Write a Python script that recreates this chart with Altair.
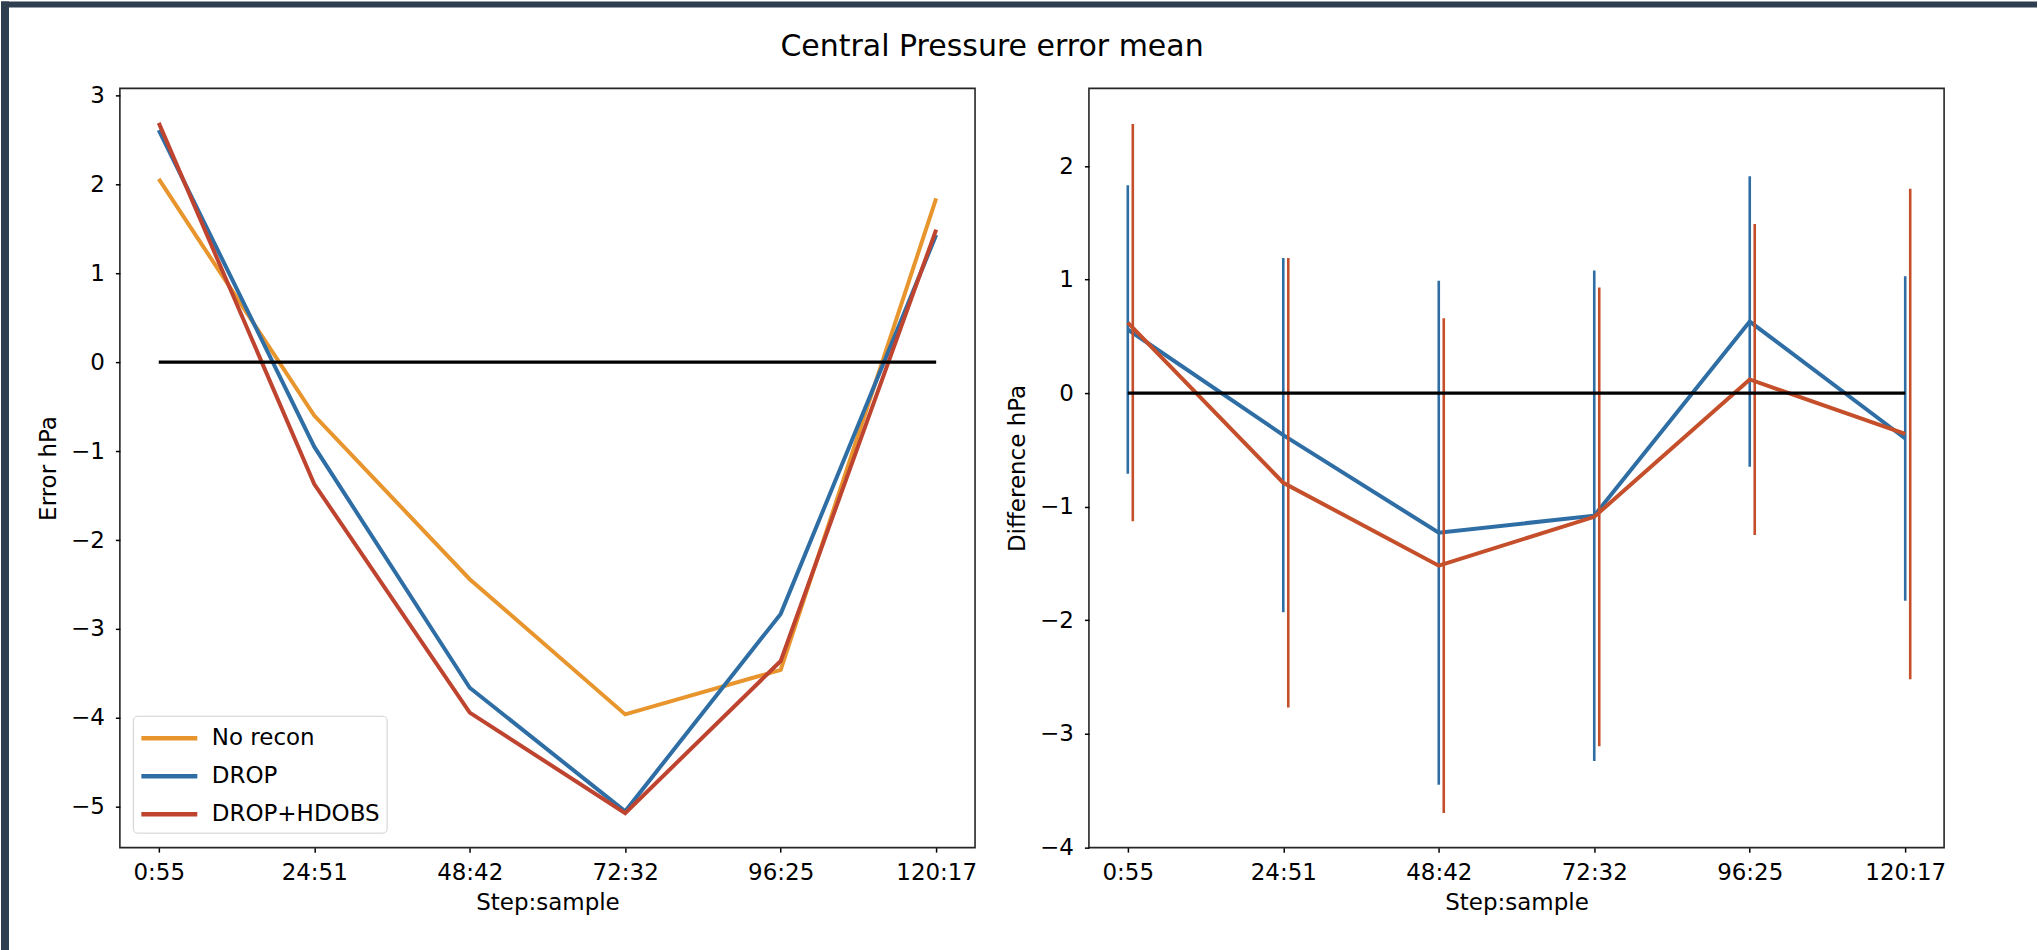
import altair as alt
import pandas as pd

# ---------------------------------------------------------------------------
# Data
# ---------------------------------------------------------------------------
steps = ["0:55", "24:51", "48:42", "72:32", "96:25", "120:17"]

series_names = ["No recon", "DROP", "DROP+HDOBS"]
series_colors = ["#E8952E", "#2F6EA5", "#BE4430"]

# Mean central-pressure error (hPa) at each step
err_no_recon = [2.06, -0.60, -2.44, -3.96, -3.46, 1.84]
err_drop = [2.61, -0.95, -3.66, -5.05, -2.83, 1.43]
err_drop_hdobs = [2.69, -1.37, -3.94, -5.07, -3.36, 1.49]

# Difference from "No recon" (hPa): mean and spread of each experiment
diff_names = ["DROP", "DROP+HDOBS"]
diff_colors = ["#2F6EA5", "#C44F2A"]
diff_drop = [0.56, -0.37, -1.23, -1.08, 0.63, -0.40]
diff_drop_spread = [1.27, 1.56, 2.22, 2.16, 1.28, 1.43]
diff_hdobs = [0.62, -0.79, -1.52, -1.09, 0.12, -0.36]
diff_hdobs_spread = [1.75, 1.98, 2.18, 2.02, 1.37, 2.16]

# ---------------------------------------------------------------------------
# Layout / style
# ---------------------------------------------------------------------------
FONT = "DejaVu Sans"
PAGE_W, PAGE_H = 2038, 950
ORIGIN_Y = 87                     # top edge of both panels
PANEL_W, PANEL_H = 856, 760
PANEL_GAP = 114
RIGHT_X = 1089                    # left edge of the second panel
FRAME = "#2E3E50"
LINE_W = 4.0

n = len(steps)
left_df = pd.DataFrame({
    "step": steps * 3,
    "i": list(range(n)) * 3,
    "series": [s for s in series_names for _ in range(n)],
    "value": err_no_recon + err_drop + err_drop_hdobs,
})

right_df = pd.DataFrame({
    "step": steps * 2,
    "i": list(range(n)) * 2,
    "series": [s for s in diff_names for _ in range(n)],
    "mean": diff_drop + diff_hdobs,
    "spread": diff_drop_spread + diff_hdobs_spread,
})

zero_df = pd.DataFrame({"a": [steps[0]], "b": [steps[-1]], "y": [0]})

x_scale = alt.Scale(type="point", domain=steps, padding=0.25)
x_axis = alt.Axis(title="Step:sample", labelAngle=0, labelPadding=9, titlePadding=7)


def x_enc(field="step:N"):
    return alt.X(field, scale=x_scale, sort=steps, axis=x_axis)


# ---------------------------------------------------------------------------
# Left panel: absolute error
# ---------------------------------------------------------------------------
y_left = alt.Y(
    "value:Q",
    scale=alt.Scale(domain=[-5.458, 3.078], nice=False, zero=False),
    axis=alt.Axis(title="Error hPa", values=list(range(-5, 4)), format="d"),
)

lines_left = alt.Chart(left_df).mark_line(strokeWidth=LINE_W).encode(
    x=x_enc(),
    y=y_left,
    order=alt.Order("i:Q"),
    color=alt.Color(
        "series:N",
        scale=alt.Scale(domain=series_names, range=series_colors),
        sort=series_names,
        legend=alt.Legend(
            title=None,
            orient="none",
            legendX=13,
            legendY=628,
            direction="vertical",
            symbolType="M-1,0H3",
            symbolSize=784,
            symbolStrokeWidth=4.5,
            labelOffset=40,
            labelFont=FONT,
            labelFontSize=23,
            labelColor="black",
            labelLimit=400,
            rowPadding=9,
            padding=6,
            fillColor="white",
            strokeColor="#D0D0D0",
            cornerRadius=4,
        ),
    ),
)

zero_left = alt.Chart(zero_df).mark_rule(color="black", strokeWidth=3.4).encode(
    x=x_enc("a:N"), x2="b", y=alt.Y("y:Q")
)

left = alt.layer(lines_left, zero_left).properties(
    width=PANEL_W,
    height=PANEL_H,
    title=alt.TitleParams(
        "Central Pressure error mean",
        font=FONT,
        fontSize=30,
        fontWeight="normal",
        color="black",
        anchor="middle",
        baseline="alphabetic",
        offset=-2,
        dx=445,
    ),
)

# ---------------------------------------------------------------------------
# Right panel: difference with spread bars
# ---------------------------------------------------------------------------
y_right_scale = alt.Scale(domain=[-4.004, 2.684], nice=False, zero=False)
y_right_axis = alt.Axis(title="Difference hPa", values=list(range(-4, 3)), format="d")
color_right = alt.Color(
    "series:N",
    scale=alt.Scale(domain=diff_names, range=diff_colors),
    legend=None,
)

base_right = alt.Chart(right_df).transform_calculate(
    lo="datum.mean - datum.spread", hi="datum.mean + datum.spread"
)


def series_layers(name, bar_offset):
    sub = base_right.transform_filter(alt.datum.series == name)
    line = sub.mark_line(strokeWidth=LINE_W).encode(
        x=x_enc(),
        y=alt.Y("mean:Q", scale=y_right_scale, axis=y_right_axis),
        order=alt.Order("i:Q"),
        color=color_right,
    )
    bars = sub.mark_rule(strokeWidth=2.6, xOffset=bar_offset).encode(
        x=x_enc(),
        y=alt.Y("lo:Q", scale=y_right_scale, axis=y_right_axis),
        y2="hi:Q",
        color=color_right,
    )
    return [line, bars]


zero_right = alt.Chart(zero_df).mark_rule(color="black", strokeWidth=3.4).encode(
    x=x_enc("a:N"), x2="b", y=alt.Y("y:Q", scale=y_right_scale, axis=y_right_axis)
)

# dark page frame along the left and top edges of the page
frame_left = alt.Chart(zero_df).mark_rect(color=FRAME).encode(
    x=alt.value(-RIGHT_X), x2=alt.value(-RIGHT_X + 8),
    y=alt.value(-ORIGIN_Y), y2=alt.value(PAGE_H - ORIGIN_Y),
)
frame_top = alt.Chart(zero_df).mark_rect(color=FRAME).encode(
    x=alt.value(-RIGHT_X), x2=alt.value(PAGE_W - RIGHT_X),
    y=alt.value(-ORIGIN_Y), y2=alt.value(-ORIGIN_Y + 6),
)

right = alt.layer(
    frame_left,
    frame_top,
    *series_layers("DROP", 0),
    *series_layers("DROP+HDOBS", 5),
    zero_right,
).properties(width=PANEL_W, height=PANEL_H)

# ---------------------------------------------------------------------------
# Assemble
# ---------------------------------------------------------------------------
chart = (
    alt.hconcat(left, right, spacing=PANEL_GAP, bounds="flush")
    .resolve_scale(color="independent", y="independent")
    .properties(padding=0, background="white")
    .configure_view(stroke="#262626", strokeWidth=1.6)
    .configure_axis(
        grid=False,
        domain=False,
        labelFont=FONT,
        labelFontSize=23,
        labelColor="black",
        titleFont=FONT,
        titleFontSize=23,
        titleFontWeight="normal",
        titleColor="black",
        tickColor="black",
        tickWidth=1.5,
        tickSize=4.5,
    )
    .configure_axisY(labelPadding=11, titlePadding=10)
)

chart.save("out.html", embed_options={"renderer": "svg", "actions": False})
